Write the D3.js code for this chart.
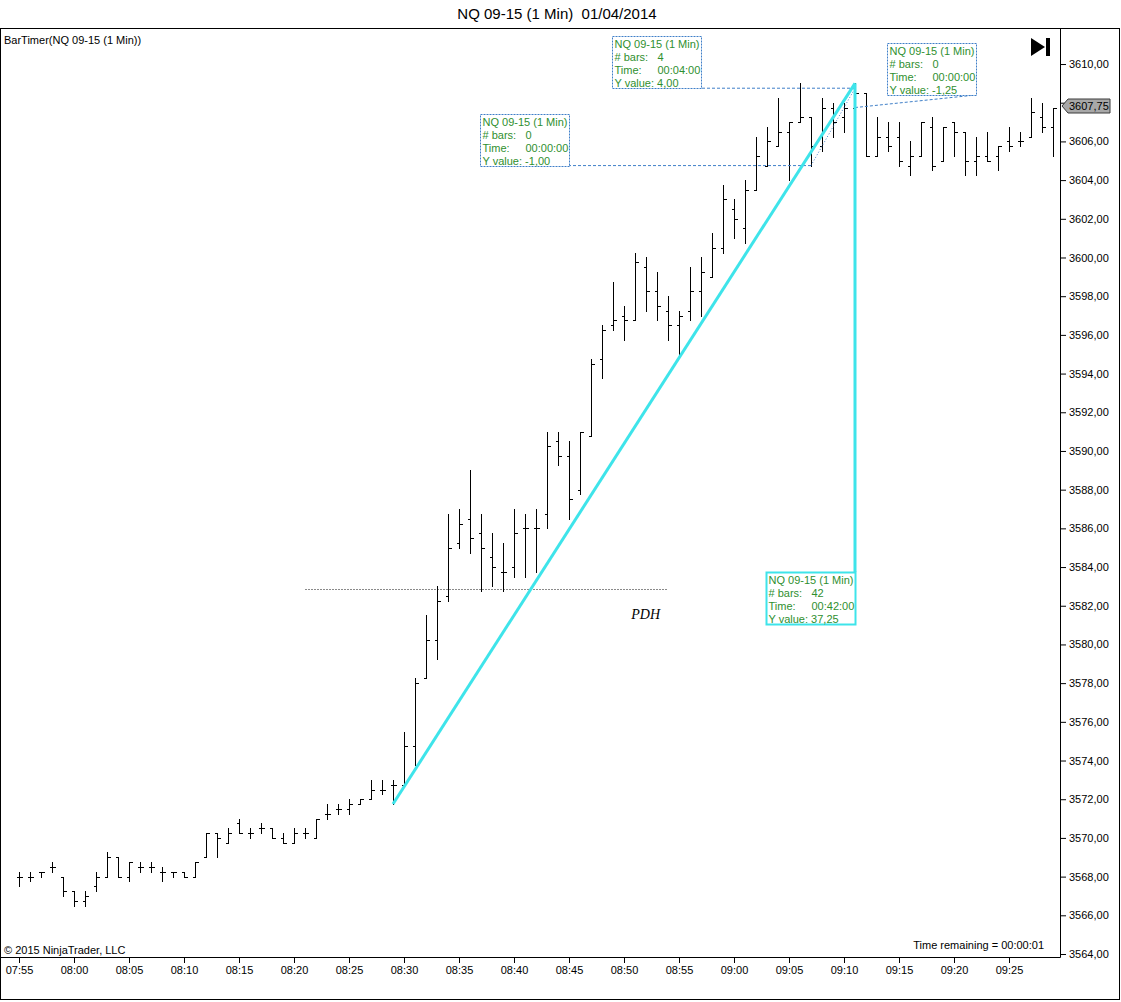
<!DOCTYPE html>
<html>
<head>
<meta charset="utf-8">
<script src="https://cdn.jsdelivr.net/npm/d3@7"></script>
<style>
  body { margin: 0; background: #fff; }
  svg { display: block; }
  text { font-family: Arial, "Liberation Sans", sans-serif; }
</style>
</head>
<body>
<div id="chart"></div>
<script>
// NQ 09-15, 1 minute bars starting 07:55
var firstBar = new Date(2014, 3, 1, 7, 55);

var opens = [
  3568.0, 3568.0, 3568.25, 3568.5, 3568.0, 3567.25, 3566.75, 3567.5, 3568.0, 3569.0,
  3568.0, 3568.5, 3568.5, 3568.25, 3568.25, 3568.25, 3568.0, 3569.0, 3570.25, 3569.75,
  3570.75, 3570.25, 3570.5, 3570.5, 3570.0, 3569.75, 3570.25, 3570.0, 3571.25, 3571.5,
  3571.5, 3571.75, 3572.0, 3572.5, 3572.75, 3572.75, 3574.75, 3578.25, 3580.25, 3582.5,
  3585.25, 3586.5, 3585.75, 3584.5, 3583.75, 3584.0, 3586.0, 3586.0, 3586.75, 3590.5,
  3589.75, 3588.0, 3590.75, 3594.75, 3596.5, 3597.0, 3596.75, 3599.5, 3598.25, 3597.25,
  3596.5, 3597.25, 3598.25, 3599.0, 3600.5, 3602.5, 3601.5, 3603.5, 3604.75, 3605.75,
  3606.5, 3607.0, 3607.25, 3605.75, 3607.75, 3607.25, 3607.75, 3608.5, 3605.25, 3606.25,
  3606.25, 3604.75, 3605.25, 3606.75, 3605.0, 3607.0, 3606.5, 3605.0, 3605.25, 3605.25,
  3606.0, 3606.0, 3606.25, 3607.25, 3606.75
];
var highs = [
  3568.25, 3568.25, 3568.25, 3568.75, 3568.0, 3567.25, 3567.25, 3568.25, 3569.25, 3569.0,
  3568.75, 3568.75, 3568.75, 3568.5, 3568.25, 3568.25, 3568.75, 3570.25, 3570.25, 3570.5,
  3571.0, 3570.5, 3570.75, 3570.5, 3570.25, 3570.5, 3570.5, 3571.0, 3571.75, 3571.75,
  3572.0, 3572.0, 3573.0, 3573.0, 3573.0, 3575.5, 3578.25, 3581.5, 3583.0, 3586.75,
  3587.0, 3589.0, 3586.75, 3585.75, 3585.25, 3587.0, 3586.75, 3587.0, 3591.0, 3591.0,
  3590.5, 3591.0, 3594.75, 3596.5, 3598.75, 3597.5, 3600.25, 3600.0, 3599.25, 3598.0,
  3597.25, 3599.5, 3600.0, 3601.25, 3603.75, 3603.0, 3604.0, 3606.25, 3606.75, 3608.25,
  3607.0, 3609.0, 3607.25, 3608.25, 3608.0, 3608.0, 3609.0, 3608.5, 3607.25, 3607.0,
  3607.0, 3606.0, 3607.0, 3607.25, 3606.75, 3607.0, 3606.5, 3606.25, 3606.5, 3605.75,
  3606.75, 3606.5, 3608.25, 3608.0, 3607.75
];
var lows = [
  3567.5, 3567.75, 3568.0, 3568.25, 3567.0, 3566.5, 3566.5, 3567.25, 3568.0, 3568.0,
  3567.75, 3568.25, 3568.25, 3567.75, 3568.0, 3568.0, 3568.0, 3569.0, 3569.0, 3569.75,
  3570.25, 3570.0, 3570.25, 3570.0, 3569.75, 3569.75, 3570.0, 3570.0, 3571.0, 3571.25,
  3571.25, 3571.75, 3572.0, 3572.25, 3571.75, 3572.75, 3573.75, 3578.25, 3579.25, 3582.25,
  3585.0, 3584.75, 3582.75, 3583.0, 3582.75, 3583.5, 3583.5, 3583.75, 3586.0, 3589.25,
  3586.5, 3587.75, 3590.75, 3593.75, 3596.25, 3595.75, 3596.75, 3597.25, 3596.75, 3595.75,
  3595.0, 3596.75, 3597.0, 3599.0, 3600.25, 3601.0, 3600.75, 3603.5, 3604.75, 3605.75,
  3604.0, 3607.0, 3604.75, 3605.5, 3606.25, 3606.5, 3607.75, 3605.25, 3605.25, 3605.5,
  3604.75, 3604.25, 3605.25, 3604.5, 3605.0, 3605.25, 3604.25, 3604.25, 3605.0, 3604.5,
  3605.5, 3605.75, 3606.25, 3606.5, 3605.25
];
var closes = [
  3568.0, 3568.0, 3568.25, 3568.5, 3567.25, 3566.75, 3567.0, 3568.0, 3569.0, 3568.0,
  3568.75, 3568.5, 3568.5, 3568.25, 3568.25, 3568.0, 3568.75, 3570.25, 3570.0, 3570.25,
  3570.25, 3570.25, 3570.5, 3570.0, 3569.75, 3570.25, 3570.25, 3571.0, 3571.25, 3571.5,
  3571.75, 3572.0, 3572.5, 3572.5, 3572.75, 3574.75, 3578.0, 3580.25, 3582.25, 3585.0,
  3586.25, 3585.5, 3585.0, 3584.0, 3583.75, 3585.75, 3586.0, 3586.0, 3590.25, 3589.75,
  3587.5, 3591.0, 3594.5, 3596.25, 3596.75, 3596.75, 3599.75, 3598.25, 3597.5, 3596.5,
  3597.0, 3598.25, 3599.25, 3600.5, 3603.0, 3602.0, 3603.5, 3605.25, 3606.0, 3606.5,
  3607.0, 3607.25, 3605.75, 3607.75, 3607.0, 3607.75, 3608.5, 3605.25, 3606.25, 3605.75,
  3605.0, 3605.25, 3607.0, 3604.75, 3606.75, 3606.5, 3605.0, 3605.25, 3605.0, 3605.75,
  3605.75, 3606.0, 3607.5, 3606.75, 3607.75
];

var priceTicks = [3564, 3566, 3568, 3570, 3572, 3574, 3576, 3578, 3580, 3582, 3584, 3586,
  3588, 3590, 3592, 3594, 3596, 3598, 3600, 3602, 3604, 3606, 3608, 3610];

var pdhPrice = 3582.85;
var pdhFromBar = 26, pdhToBar = 59;
var lastPrice = 3607.75;

// rulers: start/end as [bar, price], box corner as [bar, price]
var rulers = [
  { start: [72, 3605.75], end: [72, 3604.75], box: [50, 3604.75], corner: "bottom",
    bars: "0", time: "00:00:00", value: "-1,00", kind: "blue" },
  { start: [72, 3604.75], end: [76, 3608.75], box: [62, 3608.75], corner: "bottom",
    bars: "4", time: "00:04:00", value: "4,00", kind: "blue", diagonal: true },
  { start: [76, 3609.0], end: [76, 3607.75], box: [87, 3608.4], corner: "bottom",
    bars: "0", time: "00:00:00", value: "-1,25", kind: "blue" },
  { start: [34, 3571.75], end: [76, 3609.0], box: [76, 3583.75], corner: "top",
    bars: "42", time: "00:42:00", value: "37,25", kind: "cyan", diagonal: true }
];

var width = 1121, height = 1002;
var plotLeft = 1, plotRight = 1060, plotTop = 29, plotBottom = 957;

function barTime(i) {
  return new Date(firstBar.getTime() + i * 60000);
}

var x = d3.scaleTime()
  .domain([barTime(-18 / 11), barTime(94 + 7 / 11)])
  .range([plotLeft, plotRight]);

var y = d3.scaleLinear()
  .domain([3563.845, 3611.81])
  .range([plotBottom, plotTop]);

var svg = d3.select("#chart").append("svg")
  .attr("width", width)
  .attr("height", height);

// title
svg.append("text")
  .attr("x", 557).attr("y", 19)
  .attr("text-anchor", "middle")
  .attr("font-size", 15)
  .text("NQ 09-15 (1 Min)\u00a0\u00a001/04/2014");

// panel frame
svg.append("rect")
  .attr("x", 0.5).attr("y", 28.5)
  .attr("width", 1119).attr("height", 971)
  .attr("fill", "none").attr("stroke", "#000");

svg.append("defs").append("clipPath").attr("id", "plotclip")
  .append("rect")
  .attr("x", plotLeft).attr("y", plotTop)
  .attr("width", plotRight - plotLeft).attr("height", plotBottom - plotTop);

var plot = svg.append("g").attr("clip-path", "url(#plotclip)");

// PDH line
plot.append("line")
  .attr("x1", x(barTime(pdhFromBar))).attr("x2", x(barTime(pdhToBar)))
  .attr("y1", Math.round(y(pdhPrice)) + 0.5).attr("y2", Math.round(y(pdhPrice)) + 0.5)
  .attr("stroke", "#8a8a8a").attr("stroke-dasharray", "2,1");

plot.append("text")
  .attr("x", x(barTime(pdhToBar)) - 8)
  .attr("y", y(pdhPrice) + 30)
  .attr("text-anchor", "end")
  .style("font-family", "'Liberation Serif', 'DejaVu Serif', serif")
  .style("font-style", "italic")
  .attr("font-size", 14)
  .text("PDH");

// OHLC bars
var bars = opens.map(function(o, i) {
  return { t: barTime(i), o: o, h: highs[i], l: lows[i], c: closes[i] };
});

var bar = plot.append("g")
  .attr("stroke", "#000")
  .attr("shape-rendering", "crispEdges")
  .selectAll("g")
  .data(bars)
  .enter().append("g")
  .attr("transform", function(d) {
    return "translate(" + (Math.round(x(d.t)) + 0.5) + ",0)";
  });

bar.append("line")
  .attr("y1", function(d) { return Math.round(y(d.h)); })
  .attr("y2", function(d) { return Math.round(y(d.l)) + 1; });

bar.append("line")
  .attr("x1", -3).attr("x2", 0)
  .attr("y1", function(d) { return Math.round(y(d.o)) + 0.5; })
  .attr("y2", function(d) { return Math.round(y(d.o)) + 0.5; });

bar.append("line")
  .attr("x1", 0).attr("x2", 3)
  .attr("y1", function(d) { return Math.round(y(d.c)) + 0.5; })
  .attr("y2", function(d) { return Math.round(y(d.c)) + 0.5; });

// rulers
var boxW = 89, boxH = 52;
var cyan = "#3ee4ea", blue = "#3f7fc8", green = "#2f8f2f";

rulers.forEach(function(r) {
  var sx = x(barTime(r.start[0])), sy = y(r.start[1]);
  var ex = x(barTime(r.end[0])), ey = y(r.end[1]);
  var bx = x(barTime(r.box[0])), by = y(r.box[1]);
  var isCyan = r.kind === "cyan";
  var col = isCyan ? cyan : blue;

  if (r.diagonal) {
    plot.append("line")
      .attr("x1", sx).attr("y1", sy).attr("x2", ex).attr("y2", ey)
      .attr("stroke", col)
      .attr("stroke-width", isCyan ? 3 : 1)
      .attr("stroke-dasharray", isCyan ? null : "1,2");
  }
  plot.append("line")
    .attr("x1", ex).attr("y1", ey).attr("x2", bx).attr("y2", by)
    .attr("stroke", col)
    .attr("stroke-width", isCyan ? 3 : 1)
    .attr("stroke-dasharray", isCyan ? null : "3,2");

  var left = Math.round(bx - boxW) + 0.5;
  var top = r.corner === "top" ? Math.round(by) + 0.5 : Math.round(by - boxH) + 0.5;
  var g = plot.append("g").attr("transform", "translate(" + left + "," + top + ")");
  g.append("rect")
    .attr("width", boxW).attr("height", boxH)
    .attr("fill", "#fff")
    .attr("stroke", col)
    .attr("stroke-width", isCyan ? 2 : 1)
    .attr("stroke-dasharray", isCyan ? null : "2,1");

  var lines = [
    ["NQ 09-15 (1 Min)", null],
    ["# bars:", r.bars],
    ["Time:", r.time],
    ["Y value: " + r.value, null]
  ];
  lines.forEach(function(ln, k) {
    g.append("text")
      .attr("x", 2).attr("y", 11 + k * 13)
      .attr("font-size", 11).attr("fill", green)
      .text(ln[0]);
    if (ln[1] !== null) {
      g.append("text")
        .attr("x", 45).attr("y", 11 + k * 13)
        .attr("font-size", 11).attr("fill", green)
        .text(ln[1]);
    }
  });
});

// axes
var fmtPrice = function(d) { return d3.format(".2f")(d).replace(".", ","); };
// the last-price marker hides the label it sits on
var tickLabel = function(d) { return Math.abs(d - lastPrice) < 1 ? "" : fmtPrice(d); };

var yAxis = svg.append("g")
  .attr("transform", "translate(" + plotRight + ",0)")
  .call(d3.axisRight(y).tickValues(priceTicks).tickSize(6).tickFormat(tickLabel));
yAxis.select(".domain").remove();
yAxis.selectAll("text").attr("font-size", 11).attr("fill", "#000");

var xAxis = svg.append("g")
  .attr("transform", "translate(0," + plotBottom + ")")
  .call(d3.axisBottom(x).ticks(d3.timeMinute.every(5)).tickSize(6).tickFormat(d3.timeFormat("%H:%M")));
xAxis.select(".domain").remove();
xAxis.selectAll("text").attr("font-size", 11).attr("fill", "#000");

svg.append("line")
  .attr("x1", plotRight + 0.5).attr("x2", plotRight + 0.5)
  .attr("y1", plotTop).attr("y2", plotBottom + 0.5)
  .attr("stroke", "#000");
svg.append("line")
  .attr("x1", plotLeft).attr("x2", plotRight + 0.5)
  .attr("y1", plotBottom + 0.5).attr("y2", plotBottom + 0.5)
  .attr("stroke", "#000");

// last price marker
var ly = Math.round(y(lastPrice)) - 2.5;
svg.append("path")
  .attr("d", "M" + (plotRight + 2) + "," + (ly + 0.5) +
             " L" + (plotRight + 8) + "," + (ly - 6.5) +
             " L1110," + (ly - 6.5) + " L1110," + (ly + 7.5) +
             " L" + (plotRight + 8) + "," + (ly + 7.5) + " Z")
  .attr("fill", "#a8a8a8").attr("stroke", "#3a3a3a");
svg.append("text")
  .attr("x", plotRight + 9).attr("y", ly + 4.5)
  .attr("font-size", 11)
  .text(fmtPrice(lastPrice));

// go-to-end icon
svg.append("path").attr("d", "M1031,38 L1045,47 L1031,56 Z").attr("fill", "#000");
svg.append("rect").attr("x", 1046).attr("y", 38).attr("width", 4).attr("height", 18).attr("fill", "#000");

// labels
svg.append("text").attr("x", 4).attr("y", 44).attr("font-size", 11).text("BarTimer(NQ 09-15 (1 Min))");
svg.append("text").attr("x", 4).attr("y", 954).attr("font-size", 11).text("\u00a9 2015 NinjaTrader, LLC");
svg.append("text").attr("x", 1044).attr("y", 949).attr("font-size", 11)
  .attr("text-anchor", "end").text("Time remaining = 00:00:01");
</script>
</body>
</html>
